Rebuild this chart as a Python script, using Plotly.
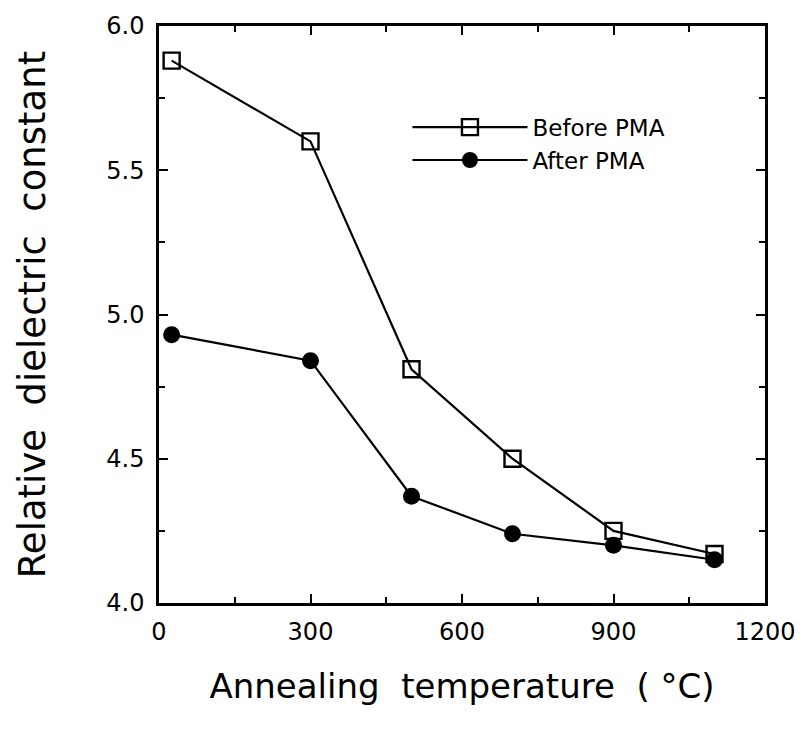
import plotly.graph_objects as go

temps = [25, 300, 500, 700, 900, 1100]
before_pma = [5.88, 5.60, 4.81, 4.50, 4.25, 4.17]
after_pma = [4.93, 4.84, 4.37, 4.24, 4.20, 4.15]

x_ticks = [0, 300, 600, 900, 1200]
y_ticks = [4.0, 4.5, 5.0, 5.5, 6.0]

FONT = "DejaVu Sans, Liberation Sans, Arial, sans-serif"

fig = go.Figure()
fig.add_trace(go.Scatter(
    x=temps, y=before_pma, name="Before PMA", mode="lines+markers",
    line=dict(color="black", width=2.2),
    marker=dict(symbol="square-open", size=16, color="black", line=dict(width=2.4)),
))
fig.add_trace(go.Scatter(
    x=temps, y=after_pma, name="After PMA", mode="lines+markers",
    line=dict(color="black", width=2.2),
    marker=dict(symbol="circle", size=17, color="black"),
))

axis_common = dict(
    showline=True, linecolor="black", linewidth=2.5, mirror="ticks",
    ticks="inside", ticklen=9, tickwidth=2, tickcolor="black",
    showgrid=False, zeroline=False,
    tickfont=dict(family=FONT, size=24, color="black"),
)

fig.update_xaxes(
    range=[0, 1200], tickvals=x_ticks, ticktext=[str(v) for v in x_ticks],
    minor=dict(ticks="inside", ticklen=6, tickwidth=2, tickcolor="black", dtick=150, tick0=0),
    title=dict(text="Annealing  temperature  ( °C)", font=dict(family=FONT, size=34, color="black"), standoff=30),
    ticklabelstandoff=5,
    **axis_common,
)
fig.update_yaxes(
    range=[4.0, 6.0], tickvals=y_ticks, ticktext=[f"{v:.1f}" for v in y_ticks],
    minor=dict(ticks="inside", ticklen=6, tickwidth=2, tickcolor="black", dtick=0.25, tick0=4.0),
    title=dict(text="Relative  dielectric  constant", font=dict(family=FONT, size=37, color="black"), standoff=50),
    ticklabelstandoff=7,
    **axis_common,
)

fig.update_layout(
    width=808, height=731,
    margin=dict(l=159, r=36, t=21, b=128),
    paper_bgcolor="white", plot_bgcolor="white",
    showlegend=True,
    legend=dict(
        x=0.41, y=0.862, xanchor="left", yanchor="top",
        font=dict(family=FONT, size=23, color="black"),
        bgcolor="rgba(0,0,0,0)", itemwidth=115, tracegroupgap=0,
    ),
)

fig.write_html("out.html", config={"displayModeBar": False},
               post_script="document.body.style.margin='0';")
